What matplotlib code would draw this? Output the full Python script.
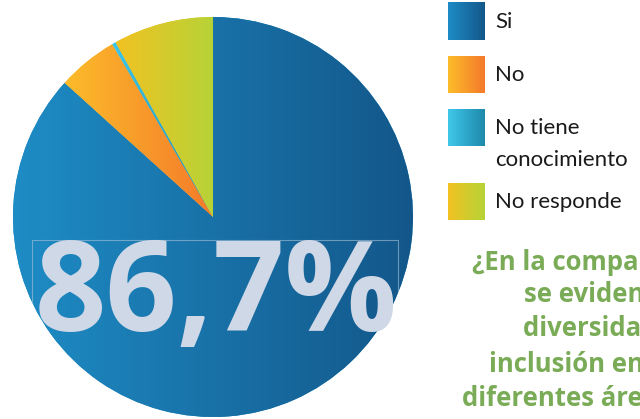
import numpy as np
import matplotlib
matplotlib.use('Agg')
import matplotlib.pyplot as plt
from matplotlib.colors import LinearSegmentedColormap
from matplotlib.patches import Rectangle

# ---- data ----
categories = ['Si', 'No', 'No tiene\nconocimiento', 'No responde']
values = [86.7, 4.9, 0.3, 8.1]
grad_left = ['#1e8cc5', '#fcbc2a', '#3fc8ea', '#f2c222']
grad_right = ['#13578a', '#f47a2b', '#1e88aa', '#b6d337']
big_label = '86,7%'
question_lines = ['¿En la compañía', 'se evidencia la', 'diversidad e',
                  'inclusión en las', 'diferentes áreas?']

W, H = 640, 419
fig = plt.figure(figsize=(6.4, 4.19), dpi=100)
ax = fig.add_axes([0, 0, 1, 1])

cx, cy, R = 213, H - 217, 200
wedges, _ = ax.pie(values, startangle=90, counterclock=False,
                   center=(cx, cy), radius=R, frame=True,
                   wedgeprops=dict(linewidth=0))

grad = np.linspace(0, 1, 256)[None, :]
for w, cl, cr in zip(wedges, grad_left, grad_right):
    w.set_facecolor(cl)
    w.set_edgecolor('none')
    bb = w.get_path().get_extents(w.get_patch_transform())
    cmap = LinearSegmentedColormap.from_list('g', [cl, cr])
    im = ax.imshow(grad, cmap=cmap, extent=(bb.x0, bb.x1, bb.y0, bb.y1),
                   aspect='auto', interpolation='bilinear', zorder=2)
    im.set_clip_path(w)

# big label with thin box (visible only on the pie)
box = Rectangle((32, -20), 398 - 32, (H - 240) + 20, fill=False,
                edgecolor='#a9c2d8', linewidth=0.8, alpha=0.6, zorder=3)
ax.add_patch(box)
box.set_clip_path(wedges[0])
ax.text(216, H - 331, big_label, ha='center', va='baseline',
        fontsize=90, fontweight='bold', family='Open Sans', color='#cfd8e7',
        zorder=4)

# legend
leg_y = [3, 56, 109, 183]
leg_text_y = [22, 75, 128, 202]
for i, (cat, cl, cr) in enumerate(zip(categories, grad_left, grad_right)):
    y0 = leg_y[i]
    cmap = LinearSegmentedColormap.from_list('g', [cl, cr])
    ax.imshow(grad, cmap=cmap, extent=(448, 485, H - y0 - 37, H - y0),
              aspect='auto', interpolation='bilinear', zorder=2)
    if i == 2:
        ax.text(495, H - 128, 'No tiene', ha='left', va='center',
                fontsize=16, family='Lato', color='#1a1a1a')
        ax.text(495, H - 160, 'conocimiento', ha='left', va='center',
                fontsize=16, family='Lato', color='#1a1a1a')
    else:
        ax.text(495, H - leg_text_y[i], cat, ha='left', va='center',
                fontsize=16, family='Lato', color='#1a1a1a')

# question text (cut at right edge like the reference)
q_x = [472, 524, 523, 489, 462]
q_y = [263, 295, 328, 364, 398]
for t, x, y in zip(question_lines, q_x, q_y):
    ax.text(x, H - y, t, ha='left', va='center', fontsize=18.5,
            fontweight='bold', family='Open Sans', color='#7aab56')

ax.set_xlim(0, W)
ax.set_ylim(0, H)
ax.set_autoscale_on(False)
ax.axis('off')
fig.savefig('out.png', dpi=100)
